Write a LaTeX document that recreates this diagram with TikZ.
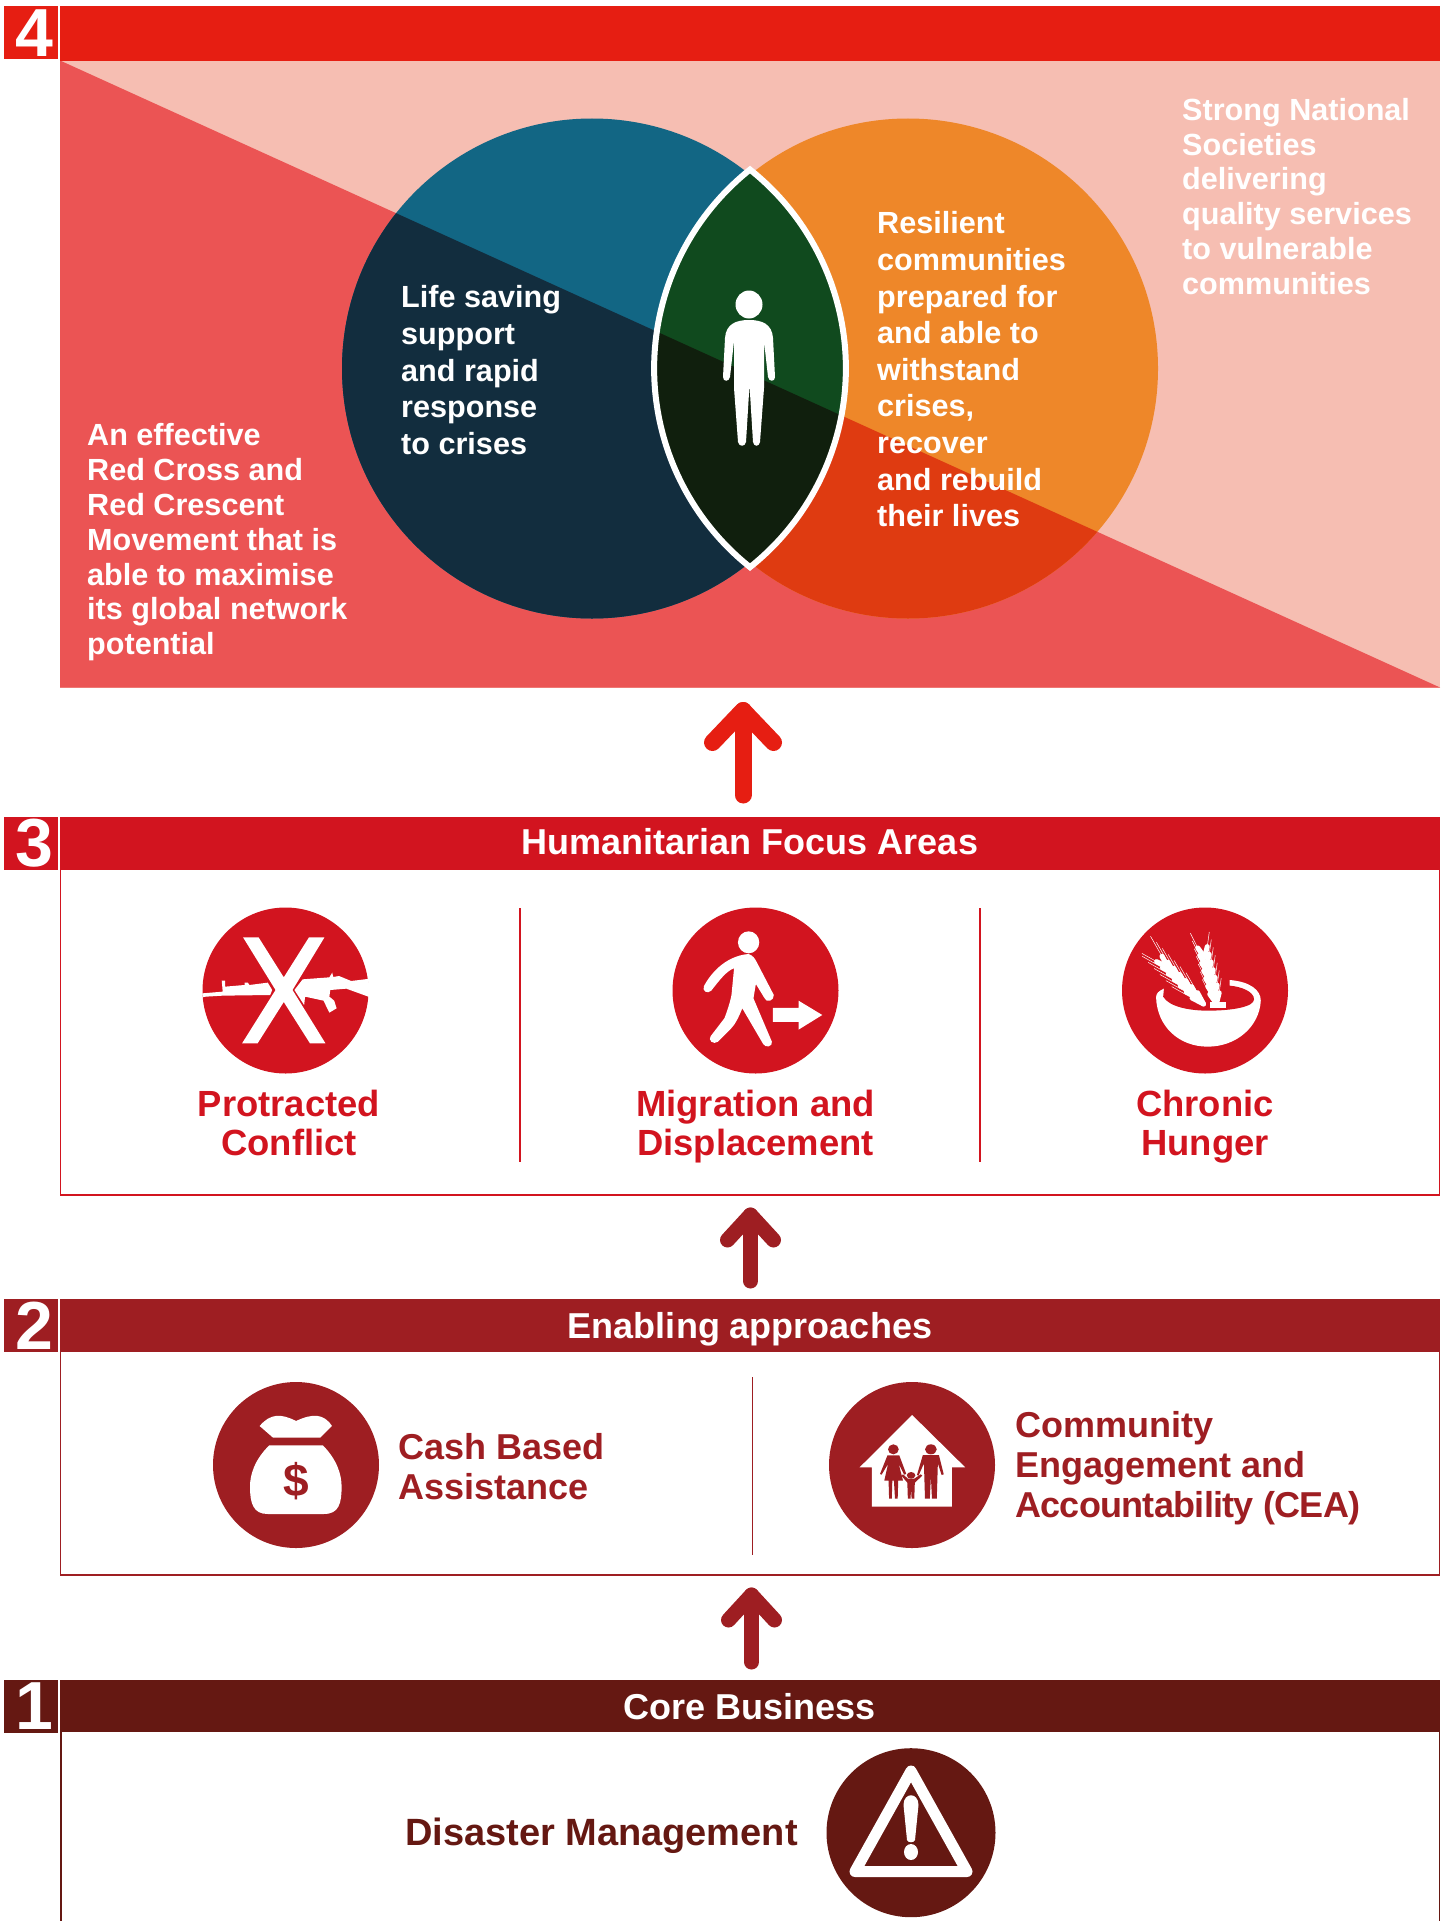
\documentclass[tikz,border=0pt]{standalone}
\usepackage{fontspec}
\setmainfont{Liberation Sans}
\usetikzlibrary{arrows.meta,calc}
\definecolor{cFour}{HTML}{E61E12}
\definecolor{cThree}{HTML}{D2141F}
\definecolor{cTwo}{HTML}{9E1E22}
\definecolor{cOne}{HTML}{651812}
\definecolor{cLight}{HTML}{F6BEB2}
\definecolor{cCoral}{HTML}{EB5454}
\definecolor{cBlue}{HTML}{126684}
\definecolor{cBlueD}{HTML}{122D3E}
\definecolor{cOrange}{HTML}{EE8729}
\definecolor{cOrangeD}{HTML}{DF3B11}
\definecolor{cGreen}{HTML}{104A1E}
\definecolor{cGreenD}{HTML}{101F0D}
\newcommand{\txt}[2]{\fontsize{#1}{#2}\selectfont\bfseries}
\tikzset{
  x=1pt,y=-1pt,
  numbox/.style={fill=#1,text=white,minimum width=54pt,minimum height=53pt,inner sep=0pt,outer sep=0pt,font=\txt{68}{68}},
  bar/.style={fill=#1,text=white,minimum width=1380pt,minimum height=52pt,inner sep=0pt,outer sep=0pt,text height=26pt,text depth=0pt,font=\txt{36}{40}},
  panel/.style={draw=#1,line width=1.5pt,inner sep=0pt,outer sep=0pt,minimum width=1379pt},
  vrule/.style={draw=#1,line width=1.6pt},
  icon/.style={circle,fill=#1,minimum size=166pt,inner sep=0pt,outer sep=0pt},
  bodytext/.style={text=white,align=left,anchor=north west,inner sep=0pt,font=\txt{30.6}{#1}},
  labelc/.style={text=#1,align=center,inner sep=0pt,font=\txt{36.4}{39.5}},
  labell/.style={text=#1,align=left,anchor=west,inner sep=0pt,font=\txt{36}{40}},
  flowline/.style={draw=#1,line width=15pt,line cap=round,line join=round},
}
\begin{document}
\begin{tikzpicture}
\useasboundingbox (0,0) rectangle (1446,1921);
% ---------- section 4
\node[fill=cLight,minimum width=1380pt,minimum height=627pt,inner sep=0pt,outer sep=0pt] (p4) at (750,374) {};
\fill[cCoral] (p4.north west) -- (p4.south west) -- (p4.south east) -- cycle;
\node[fill=cFour,minimum width=1380pt,minimum height=55pt,inner sep=0pt,outer sep=0pt] (bar4) at (750,33.5) {};
\node[numbox=cFour] (n4) at (30.5,33) {\kern7pt 4};
\fill[cBlue] (592,368.5) circle[radius=250];
\fill[cOrange] (908,368.5) circle[radius=250];
\begin{scope}
  \clip (p4.north west) -- (p4.south west) -- (p4.south east) -- cycle;
  \fill[cBlueD] (592,368.5) circle[radius=250];
  \fill[cOrangeD] (908,368.5) circle[radius=250];
\end{scope}
\newcommand{\lens}{(750,169.6) arc[start angle=-51.5,end angle=51.5,radius=254] arc[start angle=128.5,end angle=231.5,radius=254] -- cycle}
\fill[cGreen] \lens;
\begin{scope}
  \clip (p4.north west) -- (p4.south west) -- (p4.south east) -- cycle;
  \fill[cGreenD] \lens;
\end{scope}
\draw[white,line width=6pt,line join=miter] \lens;
% person
\begin{scope}[shift={(0,-7)}]
\fill[white] (749,311.5) ellipse[x radius=13.5,y radius=14];
\fill[white] (749,327) .. controls (762,327) and (772,331) .. (773,345) -- (775,384)
  .. controls (775,389) and (769,389) .. (768,384) -- (764,348) -- (764,395) -- (760,449)
  .. controls (759,454) and (754,454) .. (753,449) -- (749.5,392) -- (746,449)
  .. controls (745,454) and (739,454) .. (738,449) -- (734,395) -- (734,348) -- (730,384)
  .. controls (729,389) and (723,389) .. (723,384) -- (725,345) .. controls (726,331) and (736,327) .. (749,327) -- cycle;
\end{scope}
\node[bodytext=36.6] (t1) at (401,285.5) {Life saving\\support\\and rapid\\response\\to crises};
\node[bodytext=36.6] (t2) at (877,211.5) {Resilient\\communities\\prepared for\\and able to\\withstand\\crises,\\recover\\and rebuild\\their lives};
\node[bodytext=34.8] (t3) at (1182,98) {Strong National\\Societies\\delivering\\quality services\\to vulnerable\\communities};
\node[bodytext=34.8] (t4) at (87,423.5) {An effective\\Red Cross and\\Red Crescent\\Movement that is\\able to maximise\\its global network\\potential};
% ---------- section 3
\node[panel=cThree,minimum height=326pt] (p3) at (750,1032) {};
\node[bar=cThree,text height=23.5pt] (bar3) at (750,843) {Humanitarian Focus Areas};
\node[numbox=cThree] (n3) at (31,843.5) {\kern7pt 3};
\draw[vrule=cThree] (520,908) -- (520,1162);
\draw[vrule=cThree] (980,908) -- (980,1162);
\node[icon=cThree] (i31) at (285.5,990.5) {};
\node[icon=cThree] (i32) at (755.5,990.5) {};
\node[icon=cThree] (i33) at (1205,990.5) {};
\node[labelc=cThree] (l31) at (289,1123) {Protracted\\Conflict};
\node[labelc=cThree] (l32) at (755.5,1126.7) {Migration and\\Displacement};
\node[labelc=cThree] (l33) at (1205,1126.7) {Chronic\\Hunger};
% gun icon
\begin{scope}[shift={(150,880)},xscale=0.4847,yscale=0.3333]
  \clip (280,330) ellipse[x radius=172,y radius=248];
  \fill[white] (192,172) -- (224,172) -- (276,292) -- (328,172) -- (360,172) -- (294,330) -- (362,490) -- (330,490) -- (276,366) -- (222,490) -- (190,490) -- (259,330) -- cycle;
  \fill[white] (100,341) -- (150,335) -- (148,302) -- (155,302) -- (155,320) -- (195,315) -- (195,308) -- (202,308) -- (205,315) -- (243,308) -- (252,330) -- (248,345) -- (150,347) -- (115,350) -- (100,354) -- cycle;
  \fill[white] (460,295) -- (415,303) -- (390,288) -- (378,291) -- (376,278) -- (370,292) -- (315,298) -- (298,330) -- (318,375) -- (320,350) -- (358,362) -- (370,398) -- (385,385) -- (380,362) -- (370,350) -- (372,330) -- (405,326) -- (460,355) -- cycle;
\end{scope}
% walker icon
\begin{scope}[shift={(150,880)},xscale=0.4847,yscale=0.3333]
  \fill[white] (1235,187) ellipse[x radius=22,y radius=33];
  \fill[white] (1235,222) .. controls (1244,226) and (1248,236) .. (1252,247) -- (1287,345)
    .. controls (1288,362) and (1272,370) .. (1268,355) -- (1250,312) -- (1245,355) -- (1283,485)
    .. controls (1285,500) and (1270,505) .. (1265,492) -- (1222,385) .. controls (1215,410) and (1208,432) .. (1198,447) -- (1172,485)
    .. controls (1162,496) and (1150,480) .. (1157,468) -- (1185,415) .. controls (1192,390) and (1200,350) .. (1200,340) -- (1205,265)
    .. controls (1190,272) and (1175,300) .. (1158,332) .. controls (1150,344) and (1138,332) .. (1143,318)
    .. controls (1155,285) and (1185,228) .. (1235,222) -- cycle;
  \fill[white] (1285,384) -- (1338,384) -- (1338,362) -- (1387,405) -- (1338,449) -- (1338,426) -- (1285,426) -- cycle;
\end{scope}
% bowl icon
\begin{scope}[shift={(1000,880)},xscale=0.3378,yscale=0.3333]
  \fill[white] (462,352) .. controls (462,340) and (470,333) .. (485,326) -- (680,300)
    .. controls (740,305) and (772,330) .. (772,362) .. controls (768,440) and (700,500) .. (615,500)
    .. controls (530,500) and (465,440) .. (462,352) -- cycle;
  \fill[cThree] (483,350) .. controls (500,380) and (560,392) .. (615,392) .. controls (690,392) and (752,380) .. (752,358)
    .. controls (752,335) and (715,320) .. (680,317) -- (680,290) -- (486,320) -- cycle;
  \begin{scope}
    \clip (420,150) rectangle (672,385);
    \foreach \t in {0.06,0.2,...,1.0}{
      \draw[white,line width=.5pt] ({490+125*\t-34},{255+130*\t-18}) -- ++(-60,-34);
      \draw[white,line width=.5pt] ({490+125*\t-18},{255+130*\t-34}) -- ++(-34,-60);
      \draw[white,line width=5pt,line cap=round] ({490+125*\t},{255+130*\t}) -- ++(-34,-18);
      \draw[white,line width=5pt,line cap=round] ({490+125*\t},{255+130*\t}) -- ++(-18,-34);
    }
    \foreach \t in {0.06,0.2,...,1.0}{
      \draw[white,line width=.5pt] ({603+42*\t-20},{222+165*\t-28}) -- ++(-22,-44);
      \draw[white,line width=.5pt] ({603+42*\t+8},{222+165*\t-32}) -- ++(6,-44);
      \draw[white,line width=5pt,line cap=round] ({603+42*\t},{222+165*\t}) -- ++(-20,-28);
      \draw[white,line width=5pt,line cap=round] ({603+42*\t},{222+165*\t}) -- ++(8,-32);
    }
    \fill[white] (622,366) rectangle (668,385);
  \end{scope}
\end{scope}
% ---------- section 2
\node[panel=cTwo,minimum height=224pt] (p2) at (750,1463) {};
\node[bar=cTwo] (bar2) at (750,1325) {Enabling approaches};
\node[numbox=cTwo] (n2) at (31,1325.5) {\kern7pt 2};
\draw[vrule=cTwo] (752.5,1377) -- (752.5,1555);
\node[icon=cTwo] (i21) at (296,1465) {};
\node[icon=cTwo] (i22) at (912,1465) {};
\node[labell=cTwo] (l21) at (398,1466.5) {Cash Based\\Assistance};
\node[labell=cTwo] (l22) at (1015,1467.7) {Community\\Engagement and\\{\addfontfeature{LetterSpace=-2}Accountability (CEA)}};
% money bag
\begin{scope}[shift={(190,1360)},xscale=0.5357,yscale=0.3333]
  \fill[white] (130,198) -- (155,233) -- (243,233) -- (265,198) .. controls (250,160) and (228,160) .. (198,183) .. controls (170,160) and (150,160) .. (130,198) -- cycle;
  \fill[white] (148,256) -- (248,256) .. controls (275,300) and (283,345) .. (283,380) .. controls (283,430) and (278,462) .. (250,462) -- (145,462)
    .. controls (118,462) and (112,430) .. (112,380) .. controls (112,345) and (120,300) .. (148,256) -- cycle;
  \node[text=cTwo,inner sep=0pt,font=\txt{46}{46}] (dollar) at (198,363) {\$};
\end{scope}
% house and family
\begin{scope}[shift={(190,1360)},xscale=0.5357,yscale=0.3333]
  \fill[white] (1348,165) -- (1447,322) -- (1422,322) -- (1422,440) -- (1273,440) -- (1273,322) -- (1250,322) -- cycle;
  \fill[cTwo] (1313,268) ellipse[x radius=10,y radius=15];
  \fill[cTwo] (1383,268) ellipse[x radius=11,y radius=15];
  \fill[cTwo] (1346,346) ellipse[x radius=8,y radius=10];
  \fill[cTwo] (1302,286) -- (1324,286) -- (1337,342) -- (1333,344) -- (1323,312) -- (1331,362) -- (1322,362) -- (1321,416) -- (1316,416) -- (1314,362) -- (1311,362) -- (1310,416) -- (1305,416) -- (1304,362) -- (1296,362) -- (1303,312) -- (1291,344) -- (1288,342) -- cycle;
  \fill[cTwo] (1368,285) -- (1398,285) -- (1407,343) -- (1403,345) -- (1396,310) -- (1394,416) -- (1385,416) -- (1383,350) -- (1381,416) -- (1372,416) -- (1370,310) -- (1360,347) -- (1357,345) -- cycle;
  \fill[cTwo] (1340,356) -- (1352,356) -- (1364,343) -- (1367,347) -- (1353,368) -- (1352,416) -- (1347,416) -- (1346,385) -- (1345,416) -- (1340,416) -- (1339,368) -- (1328,347) -- (1331,343) -- cycle;
\end{scope}
% ---------- section 1
\node[bar=cOne] (bar1) at (750,1706) {Core Business};
\node[numbox=cOne] (n1) at (31,1706.5) {\kern7pt 1};
\coordinate (b1l) at (60.7,1921);
\coordinate (b1r) at (1439.3,1921);
\draw[vrule=cOne] ([xshift=.7pt]bar1.south west) -- (b1l);
\draw[vrule=cOne] ([xshift=-.7pt]bar1.south east) -- (b1r);
\node[icon=cOne,minimum size=169pt] (i11) at (911,1832.7) {};
\node[text=cOne,inner sep=0pt,font=\txt{38}{40},anchor=east] (l11) at (798,1836) {Disaster Management};
\draw[white,line width=11pt,line join=round] (911,1771) -- (967,1871.5) -- (855,1871.5) -- cycle;
\fill[white] (903.5,1805) .. controls (903.5,1792) and (918.5,1792) .. (918.5,1805) -- (915,1840) .. controls (914,1843) and (908,1843) .. (907,1840) -- cycle;
\fill[white] (911,1852) ellipse[x radius=7,y radius=8];
% ---------- connectors
\coordinate (tipA) at ([xshift=-7pt,yshift=-23pt]p4.south);
\coordinate (tipB) at ([xshift=0.5pt,yshift=-20pt]p3.south);
\coordinate (tipC) at ([xshift=1.5pt,yshift=-20pt]p2.south);
\draw[flowline=cFour,line width=17pt] ([xshift=-7pt,yshift=22pt]bar3.north) -- (tipA);
\draw[flowline=cFour,line width=17pt] ([shift={(-30.5,32)}]tipA) -- (tipA) -- ([shift={(30.5,32)}]tipA);
\draw[flowline=cTwo] ([xshift=0.5pt,yshift=18pt]bar2.north) -- (tipB);
\draw[flowline=cTwo] ([shift={(-23,25)}]tipB) -- (tipB) -- ([shift={(23,25)}]tipB);
\draw[flowline=cTwo] ([xshift=1.5pt,yshift=18pt]bar1.north) -- (tipC);
\draw[flowline=cTwo] ([shift={(-23,25)}]tipC) -- (tipC) -- ([shift={(23,25)}]tipC);
\end{tikzpicture}
\end{document}
